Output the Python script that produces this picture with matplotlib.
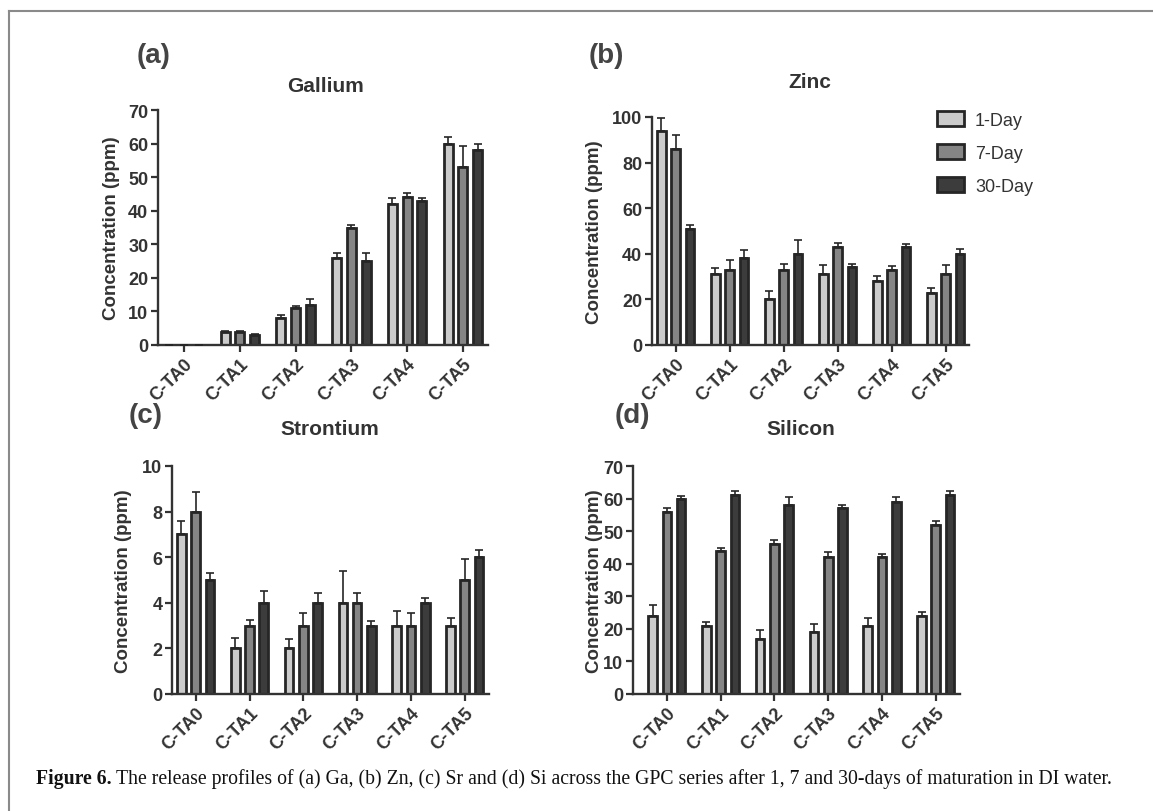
import matplotlib
matplotlib.use("Agg")
import matplotlib.pyplot as plt
import numpy as np
from matplotlib.patches import Patch
from matplotlib.lines import Line2D

categories = ["C-TA0", "C-TA1", "C-TA2", "C-TA3", "C-TA4", "C-TA5"]
series_names = ["1-Day", "7-Day", "30-Day"]

ga_1 = [0, 4, 8, 26, 42, 60]
ga_7 = [0, 4, 11, 35, 44, 53]
ga_30 = [0, 3, 12, 25, 43, 58]
ga_1_err = [0, 0.3, 1.0, 1.4, 1.7, 1.9]
ga_7_err = [0, 0.3, 0.7, 0.6, 1.2, 6.3]
ga_30_err = [0, 0.2, 1.8, 2.3, 0.9, 1.8]

zn_1 = [94, 31, 20, 31, 28, 23]
zn_7 = [86, 33, 33, 43, 33, 31]
zn_30 = [51, 38, 40, 34, 43, 40]
zn_1_err = [5.4, 2.9, 3.5, 3.9, 2.3, 2.0]
zn_7_err = [6.2, 4.1, 2.7, 1.7, 1.8, 3.9]
zn_30_err = [1.8, 3.5, 6.0, 1.5, 1.3, 2.0]

sr_1 = [7, 2, 2, 4, 3, 3]
sr_7 = [8, 3, 3, 4, 3, 5]
sr_30 = [5, 4, 4, 3, 4, 6]
sr_1_err = [0.6, 0.45, 0.4, 1.4, 0.63, 0.34]
sr_7_err = [0.84, 0.25, 0.57, 0.41, 0.57, 0.9]
sr_30_err = [0.3, 0.5, 0.44, 0.2, 0.19, 0.3]

si_1 = [24, 21, 17, 19, 21, 24]
si_7 = [56, 44, 46, 42, 42, 52]
si_30 = [60, 61, 58, 57, 59, 61]
si_1_err = [3.2, 1.0, 2.5, 2.5, 2.3, 1.3]
si_7_err = [1.0, 0.8, 1.4, 1.6, 0.9, 1.0]
si_30_err = [0.7, 1.2, 2.6, 0.9, 1.5, 1.2]

W, H = 1153, 812
fig = plt.figure(figsize=(W / 100, H / 100), dpi=100)
fig.patch.set_facecolor("white")

SANS = ["Liberation Sans", "DejaVu Sans"]
TXT = "#333333"
EDGE = "#262626"
colors = ["#cbcbcb", "#858585", "#3c3c3c"]

def px_axes(l, r, t, b):
    return fig.add_axes([l / W, 1 - b / H, (r - l) / W, (b - t) / H])

panels = [
    dict(box=(158, 488, 111, 346), xlim=(-0.47, 5.45), ymax=70, step=10,
         data=[ga_1, ga_7, ga_30], err=[ga_1_err, ga_7_err, ga_30_err],
         title="Gallium", tpos=(325, 86), lab="(a)", lpos=(154, 56), ylx=-0.115),
    dict(box=(652, 969, 118, 346), xlim=(-0.44, 5.43), ymax=100, step=20,
         data=[zn_1, zn_7, zn_30], err=[zn_1_err, zn_7_err, zn_30_err],
         title="Zinc", tpos=(810, 83), lab="(b)", lpos=(606, 56), ylx=-0.155),
    dict(box=(172, 489, 467, 695), xlim=(-0.44, 5.45), ymax=10, step=2,
         data=[sr_1, sr_7, sr_30], err=[sr_1_err, sr_7_err, sr_30_err],
         title="Strontium", tpos=(330, 430), lab="(c)", lpos=(146, 416), ylx=-0.126),
    dict(box=(633, 960, 467, 695), xlim=(-0.63, 5.45), ymax=70, step=10,
         data=[si_1, si_7, si_30], err=[si_1_err, si_7_err, si_30_err],
         title="Silicon", tpos=(801, 430), lab="(d)", lpos=(632, 416), ylx=-0.092),
]

x = np.arange(len(categories))
offset = 0.265
bw = 0.16

for p in panels:
    ax = px_axes(*p["box"])
    for i, (vals, errs) in enumerate(zip(p["data"], p["err"])):
        xs = x + (i - 1) * offset
        ax.bar(xs, vals, width=bw, color=colors[i], edgecolor=EDGE, linewidth=2.0, zorder=2)
        ax.errorbar(xs, vals, yerr=[np.zeros(len(vals)), errs], fmt="none",
                    ecolor=EDGE, elinewidth=1.2, capsize=3, capthick=1.2, zorder=3)
    ax.set_xlim(*p["xlim"])
    ax.set_ylim(0, p["ymax"])
    ax.set_yticks(np.arange(0, p["ymax"] + 0.001, p["step"]))
    ax.set_xticks(x)
    ax.set_xticklabels(categories, rotation=45, ha="right", rotation_mode="anchor")
    for s in ["top", "right"]:
        ax.spines[s].set_visible(False)
    for s in ["left", "bottom"]:
        ax.spines[s].set_linewidth(1.7)
        ax.spines[s].set_color(TXT)
    ax.tick_params(axis="both", length=5, width=1.6, color=TXT, labelcolor=TXT,
                   labelsize=13, pad=2)
    for lbl in ax.get_xticklabels() + ax.get_yticklabels():
        lbl.set_fontweight("bold")
        lbl.set_family(SANS)
    ax.set_ylabel("Concentration (ppm)", fontsize=13.5, fontweight="bold",
                  color=TXT, family=SANS)
    ax.yaxis.set_label_coords(p["ylx"], 0.5)
    ax.set_facecolor("none")
    fig.text(p["tpos"][0] / W, 1 - p["tpos"][1] / H, p["title"], ha="center", va="center",
             fontsize=15, fontweight="bold", color=TXT, family=SANS)
    fig.text(p["lpos"][0] / W, 1 - p["lpos"][1] / H, p["lab"], ha="center", va="center",
             fontsize=20, fontweight="bold", color="#444444", family=SANS)

handles = [Patch(facecolor=colors[i], edgecolor=EDGE, linewidth=2.0) for i in range(3)]
fig.legend(handles, series_names, loc="upper left", bbox_to_anchor=(937 / W, 1 - 112 / H),
           frameon=False, handlelength=1.5, handleheight=0.9,
           handletextpad=0.6, labelspacing=0.85, borderaxespad=0, borderpad=0,
           prop=dict(family=SANS, size=13))
for t in fig.legends[0].get_texts():
    t.set_color(TXT)

# frame lines
fig.add_artist(Line2D([9 / W, 9 / W], [0, 1 - 12 / H], color="#8a8a8a", linewidth=1.5))
fig.add_artist(Line2D([9 / W, 1], [1 - 12 / H, 1 - 12 / H], color="#8a8a8a", linewidth=1.5))

SERIF = ["Liberation Serif", "DejaVu Serif"]
t1 = fig.text(36 / W, 1 - 779 / H, "Figure 6.", ha="left", va="center",
              fontsize=14.2, fontweight="bold", family=SERIF, color="#111111")
fig.canvas.draw()
bb = t1.get_window_extent(renderer=fig.canvas.get_renderer())
fig.text(bb.x1 / W + 4 / W, 1 - 779 / H,
         "The release profiles of (a) Ga, (b) Zn, (c) Sr and (d) Si across the GPC series after 1, 7 and 30-days of maturation in DI water.",
         ha="left", va="center", fontsize=14.2, family=SERIF, color="#111111")

fig.savefig("out.png", dpi=100)
